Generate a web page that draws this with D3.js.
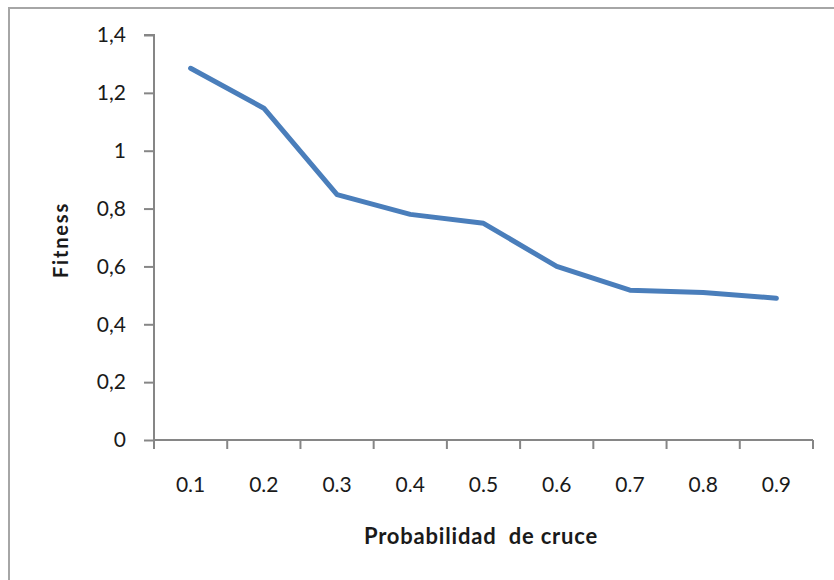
<!DOCTYPE html>
<html>
<head>
<meta charset="utf-8">
<script src="https://cdn.jsdelivr.net/npm/d3@7"></script>
<style>
  html, body { margin: 0; padding: 0; background: #fff; }
  svg { display: block; }
  text { font-family: Lato, "Open Sans", sans-serif; fill: #1a1a1a; }
</style>
</head>
<body>
<svg id="chart" width="834" height="580"></svg>
<script>
// Crossover probability vs. fitness
const categories = ["0.1", "0.2", "0.3", "0.4", "0.5", "0.6", "0.7", "0.8", "0.9"];
const fitness = [1.285, 1.147, 0.848, 0.780, 0.749, 0.600, 0.518, 0.510, 0.490];
const yTicks = [0, 0.2, 0.4, 0.6, 0.8, 1, 1.2, 1.4];
const xTitle = "Probabilidad  de cruce";
const yTitle = "Fitness";

const svg = d3.select("#chart");
const plot = { left: 154, right: 813, top: 35, bottom: 440 };

// Outer chart frame (only top and left edges are in view)
svg.append("path")
  .attr("d", "M9,580 L9,8 L834,8")
  .attr("fill", "none")
  .attr("stroke", "#a6a6a6")
  .attr("stroke-width", 2);

const x = d3.scaleBand().domain(categories).range([plot.left, plot.right]).padding(0);
const y = d3.scaleLinear().domain([0, 1.4]).range([plot.bottom, plot.top]);

const fmtComma = d => d3.format("")(Math.round(d * 10) / 10).replace(".", ",");

// Y axis
const yAxis = svg.append("g")
  .attr("transform", `translate(${plot.left},0)`)
  .call(d3.axisLeft(y).tickValues(yTicks).tickFormat(fmtComma).tickSize(10).tickPadding(18));
yAxis.select(".domain").attr("stroke", "#868686").attr("stroke-width", 2)
  .attr("d", `M-10,${y(1.4)}H0V${y(0)}`);
yAxis.selectAll(".tick line").attr("stroke", "#868686").attr("stroke-width", 2);
yAxis.selectAll(".tick text").style("font-size", "21px").attr("fill", "#1a1a1a");

// X axis: tick marks sit on band boundaries, labels in band centres
const xAxisG = svg.append("g").attr("transform", `translate(0,${plot.bottom})`);
xAxisG.append("line")
  .attr("x1", plot.left).attr("x2", plot.right)
  .attr("y1", 0).attr("y2", 0)
  .attr("stroke", "#868686").attr("stroke-width", 2);
const bounds = categories.map(c => x(c)).concat([x(categories[categories.length - 1]) + x.bandwidth()]);
xAxisG.selectAll("line.tk").data(bounds).join("line")
  .attr("class", "tk")
  .attr("x1", d => d).attr("x2", d => d)
  .attr("y1", 0).attr("y2", 9)
  .attr("stroke", "#868686").attr("stroke-width", 2);
xAxisG.selectAll("text").data(categories).join("text")
  .attr("x", d => x(d) + x.bandwidth() / 2)
  .attr("y", 52)
  .attr("text-anchor", "middle")
  .style("font-size", "21px")
  .text(d => d);

// Series line
const line = d3.line()
  .x((d, i) => x(categories[i]) + x.bandwidth() / 2)
  .y(d => y(d));
svg.append("path")
  .datum(fitness)
  .attr("d", line)
  .attr("fill", "none")
  .attr("stroke", "#4a7ebb")
  .attr("stroke-width", 5)
  .attr("stroke-linejoin", "round")
  .attr("stroke-linecap", "round");

// Axis titles
svg.append("text")
  .attr("x", 481).attr("y", 544)
  .attr("text-anchor", "middle")
  .style("font-size", "22px").style("font-weight", "bold")
  .style("letter-spacing", "0.8px")
  .style("white-space", "pre")
  .attr("xml:space", "preserve")
  .text(xTitle);

svg.append("text")
  .attr("transform", "translate(68,240) rotate(-90)")
  .attr("text-anchor", "middle")
  .style("font-size", "20px").style("font-weight", "bold")
  .style("letter-spacing", "1.8px")
  .text(yTitle);
</script>
</body>
</html>
